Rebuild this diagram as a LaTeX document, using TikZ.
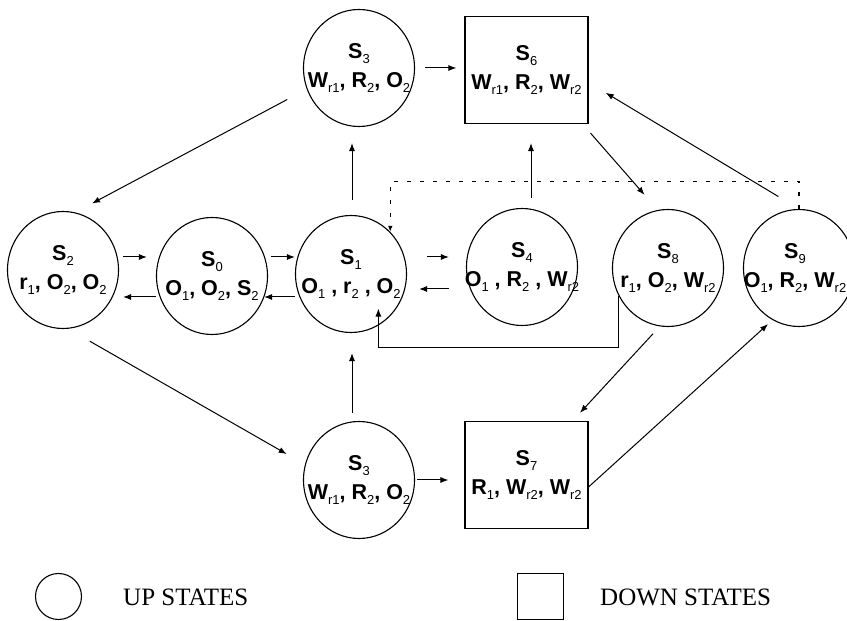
\documentclass[tikz,border=0pt]{standalone}
\usepackage{fontspec}
\setmainfont{Liberation Serif}
\newfontfamily\statefont{Liberation Sans}
\usetikzlibrary{arrows.meta,shapes.geometric}

\newcommand{\lo}[1]{\raisebox{-0.4ex}{\fontsize{13}{13}\selectfont\mdseries #1}}

\tikzset{
  upstate/.style={draw, ellipse, line width=1.1pt, minimum width=111pt, minimum height=117pt, inner sep=0pt},
  stlabel/.style={align=center, inner sep=0pt, font={\statefont\bfseries\fontsize{21.5}{29}\selectfont}},
  downstate/.style={draw, rectangle, line width=1.1pt, minimum width=123pt, minimum height=107pt, inner sep=0pt, stlabel},
  arr/.style={line width=1pt, -{Latex[length=8pt,width=6pt]}},
  dots/.style={line width=1.1pt, dash pattern=on 4pt off 9pt, -{Latex[length=6pt,width=4.5pt]}},
  keytext/.style={anchor=west, inner sep=0pt, font=\fontsize{25}{25}\selectfont}
}

\begin{document}
\begin{tikzpicture}[x=1pt,y=1pt]
	\clip (0,0) rectangle (847,621);
	% states
	\node[upstate, label={[stlabel]center:{S\lo{3}\\W\lo{r1}, R\lo{2}, O\lo{2}}}] (s3a) at (359,553) {};
	\node[downstate] (s6) at (526.5,551) {S\lo{6}\\W\lo{r1}, R\lo{2}, W\lo{r2}};
	\node[upstate, label={[stlabel]center:{S\lo{2}\\r\lo{1}, O\lo{2}, O\lo{2}}}] (s2) at (63,351) {};
	\node[upstate, label={[stlabel]center:{S\lo{0}\\O\lo{1}, O\lo{2}, S\lo{2}}}] (s0) at (212,345) {};
	\node[upstate, label={[stlabel]center:{S\lo{1}\\O\lo{1} , r\lo{2} , O\lo{2}}}] (s1) at (351,347) {};
	\node[upstate, label={[stlabel]center:{S\lo{4}\\O\lo{1} , R\lo{2} , W\lo{r2}}}] (s4) at (522,354) {};
	\node[upstate, label={[stlabel]center:{S\lo{8}\\r\lo{1}, O\lo{2}, W\lo{r2}}}] (s8) at (668,353) {};
	\node[upstate, label={[stlabel, xshift=-4pt]center:{S\lo{9}\\O\lo{1}, R\lo{2}, W\lo{r2}}}] (s9) at (799,353) {};
	\node[upstate, label={[stlabel]center:{S\lo{3}\\W\lo{r1}, R\lo{2}, O\lo{2}}}] (s3b) at (359,141) {};
	\node[downstate] (s7) at (526.5,146) {S\lo{7}\\R\lo{1}, W\lo{r2}, W\lo{r2}};
	% transitions
	\draw[arr, shorten <=10pt, shorten >=8pt] (s3a.east) -- (s3a.east -| s6.west);
	\draw[arr, shorten <=22pt, shorten >=19pt] (s3a.202) -- (s2.78);
	\draw[arr, shorten <=15pt, shorten >=16pt] ([xshift=1pt]s1.north) -- ([xshift=1pt]s1.north |- s3a.south);
	\draw[arr, shorten <=4pt, shorten >=9pt] ([yshift=13pt]s2.east) -- ([yshift=13pt]s2.east -| s0.west);
	\draw[arr, shorten >=4pt] ([yshift=-21pt]s0.west) -- ([yshift=-21pt]s0.west -| s2.east);
	\draw[arr, shorten <=3pt] ([yshift=19pt]s0.east) -- ([yshift=19pt]s0.east -| s1.west);
	\draw[arr, shorten >=-4pt] ([yshift=-23pt]s1.west) -- ([yshift=-23pt]s1.west -| s0.east);
	\draw[arr, shorten <=20pt, shorten >=17pt] ([yshift=17pt]s1.east) -- ([yshift=17pt]s1.east -| s4.west);
	\draw[arr, shorten <=17pt, shorten >=12pt] ([yshift=-22pt]s4.west) -- ([yshift=-22pt]s4.west -| s1.east);
	\draw[arr, shorten <=10pt, shorten >=19pt] ([xshift=9pt]s4.north) -- ([xshift=9pt]s4.north |- s6.south);
	\draw[arr, shorten <=12pt, shorten >=20pt] ([xshift=-6pt]s6.south east) -- (s8.100);
	\draw[arr, shorten <=24pt, shorten >=20pt] (s9.north) -- ([yshift=-12.5pt]s6.east);
	\draw[dots] (s9.north) -- ++(0,27.5) -| (s1.47);
	\draw[arr, shorten >=-17pt] (s8.210) -- ++(0,-51.5) -| (s1.-62);
	\draw[arr, shorten <=25pt, shorten >=21pt] (s2.-85) -- (s3b.164);
	\draw[arr, shorten <=8pt, shorten >=20pt] ([xshift=-7pt]s3b.north) -- ([xshift=-7pt]s3b.north |- s1.south);
	\draw[arr, shorten <=2pt, shorten >=16pt] (s3b.east) -- (s3b.east -| s7.west);
	\draw[arr, shorten <=10pt, shorten >=11pt] (s8.262) -- ([xshift=46pt]s7.north);
	\draw[arr, shorten >=6pt] ([yshift=-12pt]s7.east) -- (s9.243);
	% legend
	\node[draw, circle, line width=1.1pt, minimum size=46pt, inner sep=0pt] (upkey) at (58.5,24.5) {};
	\node[keytext] (uptext) at (123,24) {UP STATES};
	\node[draw, rectangle, line width=1.1pt, minimum size=46pt, inner sep=0pt] (downkey) at (540.5,24.5) {};
	\node[keytext] (downtext) at (600,24) {DOWN STATES};
\end{tikzpicture}
\end{document}
